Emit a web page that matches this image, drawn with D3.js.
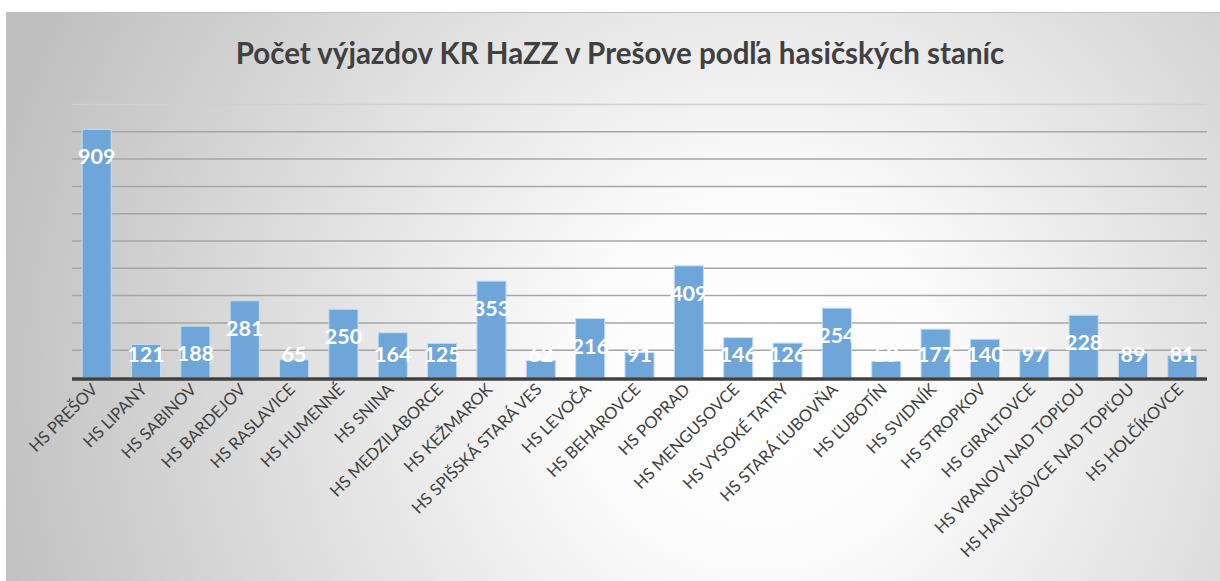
<!DOCTYPE html>
<html>
<head>
<meta charset="utf-8">
<script src="https://cdn.jsdelivr.net/npm/d3@7"></script>
<style>
  html, body { margin: 0; padding: 0; background: #ffffff; }
  svg { display: block; }
</style>
</head>
<body>
<svg id="chart" width="1220" height="581"></svg>
<script>
const title = "Počet výjazdov KR HaZZ v Prešove podľa hasičských staníc";
const categories = [
  "HS PREŠOV", "HS LIPANY", "HS SABINOV", "HS BARDEJOV", "HS RASLAVICE",
  "HS HUMENNÉ", "HS SNINA", "HS MEDZILABORCE", "HS KEŽMAROK", "HS SPIŠSKÁ STARÁ VES",
  "HS LEVOČA", "HS BEHAROVCE", "HS POPRAD", "HS MENGUSOVCE", "HS VYSOKÉ TATRY",
  "HS STARÁ ĽUBOVŇA", "HS ĽUBOTÍN", "HS SVIDNÍK", "HS STROPKOV", "HS GIRALTOVCE",
  "HS VRANOV NAD TOPĽOU", "HS HANUŠOVCE NAD TOPĽOU", "HS HOLČÍKOVCE"
];
const values = [909, 121, 188, 281, 65, 250, 164, 125, 353, 62, 216, 91, 409, 146, 126, 254, 59, 177, 140, 97, 228, 89, 81];
const yTicks = [0, 100, 200, 300, 400, 500, 600, 700, 800, 900, 1000];

const svg = d3.select("#chart");
const W = 1220, H = 581;

// background gradient
const defs = svg.append("defs");
const grad = defs.append("radialGradient")
  .attr("id", "bg").attr("gradientUnits", "userSpaceOnUse")
  .attr("cx", 760).attr("cy", 380).attr("r", 800)
  .attr("fx", 760).attr("fy", 380);
grad.append("stop").attr("offset", "0%").attr("stop-color", "#ffffff");
grad.append("stop").attr("offset", "22%").attr("stop-color", "#fcfcfc");
grad.append("stop").attr("offset", "100%").attr("stop-color", "#bfbfbf");

svg.append("rect").attr("x", 6.5).attr("y", 12.5).attr("width", W - 6).attr("height", H - 12)
  .attr("fill", "url(#bg)").attr("stroke", "#bfbfbf").attr("stroke-width", 1);

// title
svg.append("text")
  .attr("x", 620).attr("y", 64)
  .attr("text-anchor", "middle")
  .attr("font-family", "Lato, 'Open Sans', sans-serif")
  .attr("font-weight", "bold")
  .attr("font-size", 29.5)
  .attr("fill", "#404040")
  .text(title);

const plot = { left: 72, right: 1207, top: 104.5, bottom: 377.5 };

const x = d3.scaleBand().domain(categories).range([plot.left, plot.right]).paddingInner(0.41).paddingOuter(0.205);
const y = d3.scaleLinear().domain([0, 1000]).range([plot.bottom, plot.top]);

// gridlines
const grid = svg.append("g");
grid.selectAll("line").data(yTicks.filter(t => t > 0)).join("line")
  .attr("x1", plot.left).attr("x2", plot.right)
  .attr("y1", d => y(d)).attr("y2", d => y(d))
  .attr("stroke", d => d === 1000 ? "#d0d0d0" : "#a6a6a6")
  .attr("stroke-width", 1.5);

// bars
svg.append("g").selectAll("rect").data(values).join("rect")
  .attr("x", (d, i) => x(categories[i]))
  .attr("y", d => y(d))
  .attr("width", x.bandwidth())
  .attr("height", d => plot.bottom - y(d))
  .attr("fill", "#6fa6da")
  .attr("stroke", "#c5dcf0")
  .attr("stroke-width", 1);

// baseline axis
const xAxis = d3.axisBottom(x).tickSize(0).tickPadding(0);
const axG = svg.append("g").attr("transform", `translate(0,${plot.bottom})`).call(xAxis);
axG.select(".domain").attr("stroke", "#404040").attr("stroke-width", 3.5).attr("d", `M${plot.left},1.5H${plot.right}`);
axG.selectAll(".tick text")
  .attr("font-family", "Lato, 'Open Sans', sans-serif")
  .attr("font-size", 16.5)
  .attr("fill", "#404040")
  .attr("text-anchor", "end")
  .attr("dy", 0)
  .attr("transform", "translate(2,13) rotate(-45)");

// data labels
svg.append("g").selectAll("text").data(values).join("text")
  .attr("x", (d, i) => x(categories[i]) + x.bandwidth() / 2)
  .attr("y", d => Math.min(y(d) + 27.5, 354) + 7.5)
  .attr("text-anchor", "middle")
  .attr("font-family", "Lato, 'Open Sans', sans-serif")
  .attr("font-weight", "bold")
  .attr("font-size", 21.5)
  .attr("fill", "#ffffff")
  .text(d => d);
</script>
</body>
</html>
